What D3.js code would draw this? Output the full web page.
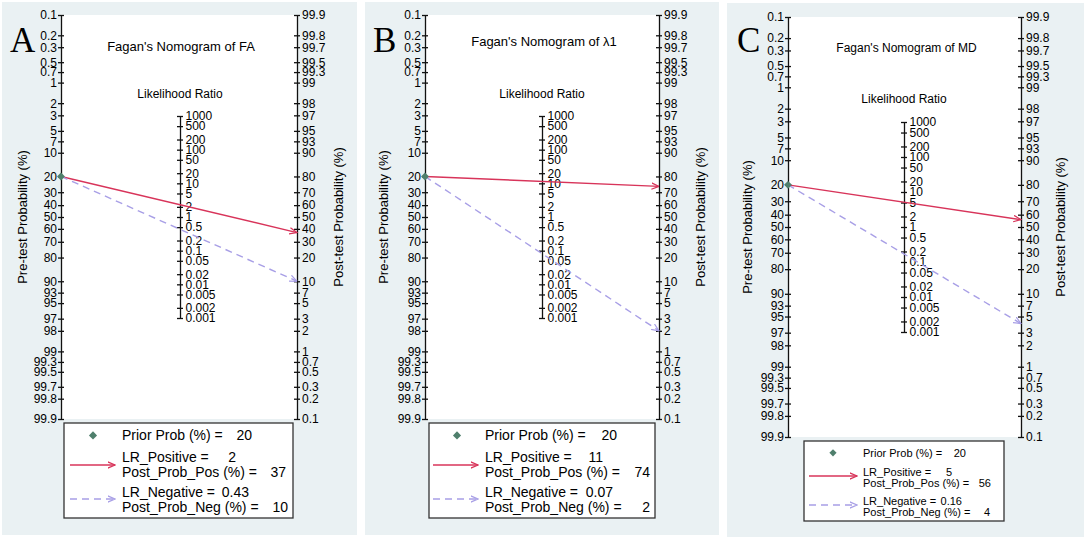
<!DOCTYPE html>
<html>
<head>
<meta charset="utf-8">
<script src="https://cdn.jsdelivr.net/npm/d3@7"></script>
<style>
  body { margin: 0; background: #fff; }
  svg { display: block; font-family: "Liberation Sans", Arial, sans-serif; }
</style>
</head>
<body>
<svg id="chart" width="1084" height="539"></svg>
<script>
// values
var panelLetters = ['A', 'B', 'C'];
var titles = ["Fagan's Nomogram of FA", "Fagan's Nomogram of \u03bb1", "Fagan's Nomogram of MD"];
var priorProb = [20, 20, 20];
var lrPositive = [2, 11, 5];
var postProbPos = [37, 74, 56];
var lrNegative = [0.43, 0.07, 0.16];
var postProbNeg = [10, 2, 4];

var preTicks = [0.1, 0.2, 0.3, 0.5, 0.7, 1, 2, 3, 5, 7, 10, 20, 30, 40, 50, 60, 70, 80, 90, 93, 95, 97, 98, 99, 99.3, 99.5, 99.7, 99.8, 99.9];
var postTicks = [99.9, 99.8, 99.7, 99.5, 99.3, 99, 98, 97, 95, 93, 90, 80, 70, 60, 50, 40, 30, 20, 10, 7, 5, 3, 2, 1, 0.7, 0.5, 0.3, 0.2, 0.1];
var lrTicks = [1000, 500, 200, 100, 50, 20, 10, 5, 2, 1, 0.5, 0.2, 0.1, 0.05, 0.02, 0.01, 0.005, 0.002, 0.001];

var legendLabels = ['Prior Prob (%) =', 'LR_Positive =', 'Post_Prob_Pos (%) =', 'LR_Negative =', 'Post_Prob_Neg (%) ='];

// layout of each panel (pixels)
var layout = [
  {bg: [2, 2, 355, 533], xL: 61, xR: 297, xLR: 180, top: 15, bottom: 419, letter: [10, 52],
   titleY: 50.5, lrTitleY: 97.5, preTitleX: 27, postTitleX: 343,
   legend: {x: 64, y: 423, w: 229, h: 95, fs: 14, rows: [17, 39, 53.5, 74, 88.5], cols: [188, 172, 222, 185, 224],
            labelX: 58, markX: 29, lineX: [6, 51], lineY: [42, 76]}},
  {bg: [365, 2, 354, 533], xL: 425, xR: 659, xLR: 542, top: 15, bottom: 419, letter: [373, 52],
   titleY: 45.5, lrTitleY: 98, preTitleX: 388, postTitleX: 705,
   legend: {x: 429, y: 423, w: 226, h: 95, fs: 14, rows: [17, 39, 53.5, 74, 88.5], cols: [188, 174, 221, 184, 221],
            labelX: 56, markX: 28, lineX: [4, 49], lineY: [42, 76]}},
  {bg: [727, 3, 357, 534], xL: 788, xR: 1021, xLR: 904, top: 17, bottom: 437, letter: [737, 52],
   titleY: 51.5, lrTitleY: 103, preTitleX: 752, postTitleX: 1065,
   legend: {x: 804, y: 441, w: 200, h: 80, fs: 11, rows: [15.5, 34.5, 45.5, 63.5, 74.5], cols: [162, 148, 187, 158, 186],
            labelX: 59, markX: 29, lineX: [5, 53], lineY: [35, 64]}}
];

var posColor = '#d8345a';
var negColor = '#a89fe6';
var priorColor = '#4f7f6c';
var bgColor = '#eaf1f3';
var inkColor = '#111';

var svg = d3.select('#chart');

var defs = svg.append('defs');
[['arrPos', posColor], ['arrNeg', negColor]].forEach(function(m) {
  defs.append('marker')
    .attr('id', m[0])
    .attr('markerUnits', 'userSpaceOnUse')
    .attr('viewBox', '0 0 8 8')
    .attr('markerWidth', 8)
    .attr('markerHeight', 8)
    .attr('refX', 7.5)
    .attr('refY', 4)
    .attr('orient', 'auto')
    .append('path')
    .attr('d', 'M0,0.8 L7.5,4 L0,7.2')
    .attr('fill', 'none')
    .attr('stroke', m[1])
    .attr('stroke-width', 1.2);
});

function logit(p) { return Math.log(p / (100 - p)); }

panelLetters.forEach(function(letter, i) {
  var L = layout[i];
  var g = svg.append('g');

  g.append('rect')
    .attr('x', L.bg[0]).attr('y', L.bg[1])
    .attr('width', L.bg[2]).attr('height', L.bg[3])
    .attr('fill', bgColor);

  g.append('rect')
    .attr('x', L.xL).attr('y', L.top)
    .attr('width', L.xR - L.xL).attr('height', L.bottom - L.top)
    .attr('fill', '#fff');

  var yPre = d3.scaleLinear().domain([logit(0.1), logit(99.9)]).range([L.top, L.bottom]);
  var yPost = d3.scaleLinear().domain([logit(99.9), logit(0.1)]).range([L.top, L.bottom]);
  var mid = (L.top + L.bottom) / 2;
  var half = (L.bottom - L.top) / 2;
  var yLR = d3.scaleLog().domain([1000, 0.001]).range([mid - half / 2, mid + half / 2]);

  // pre-test axis
  var preAxis = g.append('g')
    .attr('transform', 'translate(' + L.xL + ',0)')
    .call(d3.axisLeft(yPre)
      .tickValues(preTicks.map(logit))
      .tickFormat(function(d, j) { return preTicks[j]; })
      .tickSize(3).tickSizeOuter(0).tickPadding(1));
  preAxis.selectAll('.tick line').attr('x1', 3);

  // post-test axis
  var postAxis = g.append('g')
    .attr('transform', 'translate(' + L.xR + ',0)')
    .call(d3.axisRight(yPost)
      .tickValues(postTicks.map(logit))
      .tickFormat(function(d, j) { return postTicks[j]; })
      .tickSize(3).tickSizeOuter(0).tickPadding(2));
  postAxis.selectAll('.tick line').attr('x1', -3);

  // likelihood ratio axis
  var lrAxis = g.append('g')
    .attr('transform', 'translate(' + L.xLR + ',0)')
    .call(d3.axisRight(yLR)
      .tickValues(lrTicks)
      .tickFormat(function(d) { return String(d); })
      .tickSize(3).tickSizeOuter(0).tickPadding(2.5));
  lrAxis.selectAll('.tick line').attr('x1', -3);

  [preAxis, postAxis, lrAxis].forEach(function(ax) {
    ax.attr('font-size', 12)
      .attr('font-family', null)
      .attr('color', inkColor);
    ax.selectAll('line, path').attr('stroke-width', 1.3);
    ax.selectAll('text').attr('fill', '#000');
  });

  // nomogram lines
  var y0 = yPre(logit(priorProb[i]));
  g.append('line')
    .attr('x1', L.xL).attr('y1', y0)
    .attr('x2', L.xR).attr('y2', yPost(logit(postProbPos[i])))
    .attr('stroke', posColor).attr('stroke-width', 1.4)
    .attr('marker-end', 'url(#arrPos)');
  g.append('line')
    .attr('x1', L.xL).attr('y1', y0)
    .attr('x2', L.xR).attr('y2', yPost(logit(postProbNeg[i])))
    .attr('stroke', negColor).attr('stroke-width', 1.4)
    .attr('stroke-dasharray', '7,5')
    .attr('marker-end', 'url(#arrNeg)');

  g.append('path')
    .attr('d', d3.symbol().type(d3.symbolDiamond2).size(40)())
    .attr('transform', 'translate(' + L.xL + ',' + y0 + ')')
    .attr('fill', priorColor);

  // titles
  g.append('text')
    .attr('x', L.letter[0]).attr('y', L.letter[1])
    .attr('font-family', '"Liberation Serif", "Times New Roman", serif')
    .attr('font-size', 35)
    .attr('fill', '#000')
    .text(letter);

  g.append('text')
    .attr('x', (L.xL + L.xR) / 2 + 2).attr('y', L.titleY)
    .attr('text-anchor', 'middle')
    .attr('font-size', i === 2 ? 12 : 13)
    .attr('fill', '#000')
    .text(titles[i]);

  g.append('text')
    .attr('x', L.xLR).attr('y', L.lrTitleY)
    .attr('text-anchor', 'middle')
    .attr('font-size', 12)
    .attr('fill', '#000')
    .text('Likelihood Ratio');

  g.append('text')
    .attr('transform', 'translate(' + L.preTitleX + ',' + mid + ') rotate(-90)')
    .attr('text-anchor', 'middle')
    .attr('font-size', 13)
    .attr('fill', '#000')
    .text('Pre-test Probability (%)');

  g.append('text')
    .attr('transform', 'translate(' + L.postTitleX + ',' + mid + ') rotate(-90)')
    .attr('text-anchor', 'middle')
    .attr('font-size', 13)
    .attr('fill', '#000')
    .text('Post-test Probability (%)');

  // legend
  var lg = L.legend;
  var leg = g.append('g').attr('transform', 'translate(' + lg.x + ',' + lg.y + ')');
  leg.append('rect')
    .attr('width', lg.w).attr('height', lg.h)
    .attr('fill', '#fff')
    .attr('stroke', '#333').attr('stroke-width', 1.3);

  leg.append('path')
    .attr('d', d3.symbol().type(d3.symbolDiamond2).size(lg.fs * 3)())
    .attr('transform', 'translate(' + lg.markX + ',' + (lg.rows[0] - lg.fs * 0.33) + ')')
    .attr('fill', priorColor);
  leg.append('line')
    .attr('x1', lg.lineX[0]).attr('x2', lg.lineX[1])
    .attr('y1', lg.lineY[0]).attr('y2', lg.lineY[0])
    .attr('stroke', posColor).attr('stroke-width', 1.4)
    .attr('marker-end', 'url(#arrPos)');
  leg.append('line')
    .attr('x1', lg.lineX[0]).attr('x2', lg.lineX[1])
    .attr('y1', lg.lineY[1]).attr('y2', lg.lineY[1])
    .attr('stroke', negColor).attr('stroke-width', 1.4)
    .attr('stroke-dasharray', '7,5')
    .attr('marker-end', 'url(#arrNeg)');

  var legendValues = [priorProb[i], lrPositive[i], postProbPos[i], lrNegative[i], postProbNeg[i]];
  legendLabels.forEach(function(lbl, r) {
    leg.append('text')
      .attr('x', lg.labelX).attr('y', lg.rows[r])
      .attr('font-size', lg.fs)
      .attr('fill', '#000')
      .text(lbl);
    leg.append('text')
      .attr('x', lg.cols[r]).attr('y', lg.rows[r])
      .attr('text-anchor', 'end')
      .attr('font-size', lg.fs)
      .attr('fill', '#000')
      .text(String(legendValues[r]));
  });
});
</script>
</body>
</html>
